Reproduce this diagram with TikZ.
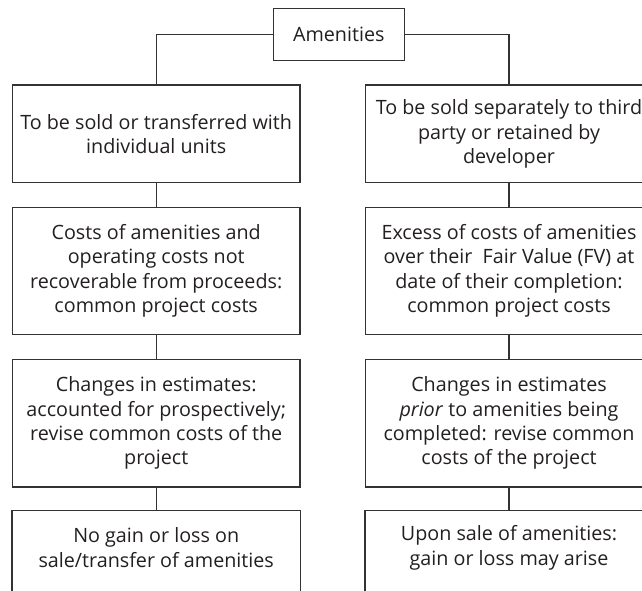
\documentclass[tikz,border=0pt]{standalone}
\usepackage{fontspec}
\setmainfont{Open Sans}
\definecolor{ink}{HTML}{231F20}
\definecolor{rule}{HTML}{333333}
\begin{document}
\begin{tikzpicture}[x=1bp,y=-1bp,
  every node/.style={font=\fontsize{19.8}{24.5}\selectfont, text=ink},
  box/.style={draw=rule, line width=1.3bp, align=center, inner sep=2bp, minimum width=287.7bp},
  openbox/.style={align=center, inner sep=2bp, minimum width=287.7bp, minimum height=73.4bp},
  link/.style={draw=rule, line width=1.3bp}]
\useasboundingbox (0,0) rectangle (642,591);
\clip (0,0) rectangle (642,591);
\node[box, minimum width=131bp, minimum height=52.4bp] (am) at (338.8,34.5) {Amenities};
% left column
\node[box, minimum height=97.7bp] (l1) at (156.2,133.9) {To be sold or transferred with\\individual units};
\node[box, minimum height=127bp] (l2) at (156.2,270.8) {Costs of amenities and\\operating costs not\\recoverable from proceeds:\\common project costs};
\node[box, minimum height=127.7bp] (l3) at (156.2,423.2) {Changes in estimates:\\accounted for prospectively;\\revise common costs of the\\project};
\node[openbox] (l4) at (156.2,547.7) {No gain or loss on\\sale/transfer of amenities};
% right column
\node[box, minimum height=97.7bp] (r1) at (509,133.9) {To be sold separately to third\\party or retained by\\developer};
\node[box, minimum height=127bp] (r2) at (509,270.8) {Excess of costs of amenities\\over their\ \ Fair Value (FV) at\\date of their completion:\\common project costs};
\node[box, minimum height=127.7bp] (r3) at (509,423.2) {Changes in estimates\\\textit{prior} to amenities being\\completed: revise common\\costs of the project};
\node[openbox] (r4) at (509,547.7) {Upon sale of amenities:\\gain or loss may arise};
% open-bottom boxes
\draw[link] (l4.north west) ++(0,100) -- (l4.north west) -- (l4.north east) -- ++(0,100);
\draw[link] (r4.north west) ++(0,100) -- (r4.north west) -- (r4.north east) -- ++(0,100);
% connectors
\draw[link] (am.west) -| (l1.north);
\draw[link] (am.east) -| (r1.north);
\draw[link] (l1.south) -- (l2.north);
\draw[link] (l2.south) -- (l3.north);
\draw[link] (l3.south) -- (l4.north);
\draw[link] (r1.south) -- (r2.north);
\draw[link] (r2.south) -- (r3.north);
\draw[link] (r3.south) -- (r4.north);
\end{tikzpicture}
\end{document}
